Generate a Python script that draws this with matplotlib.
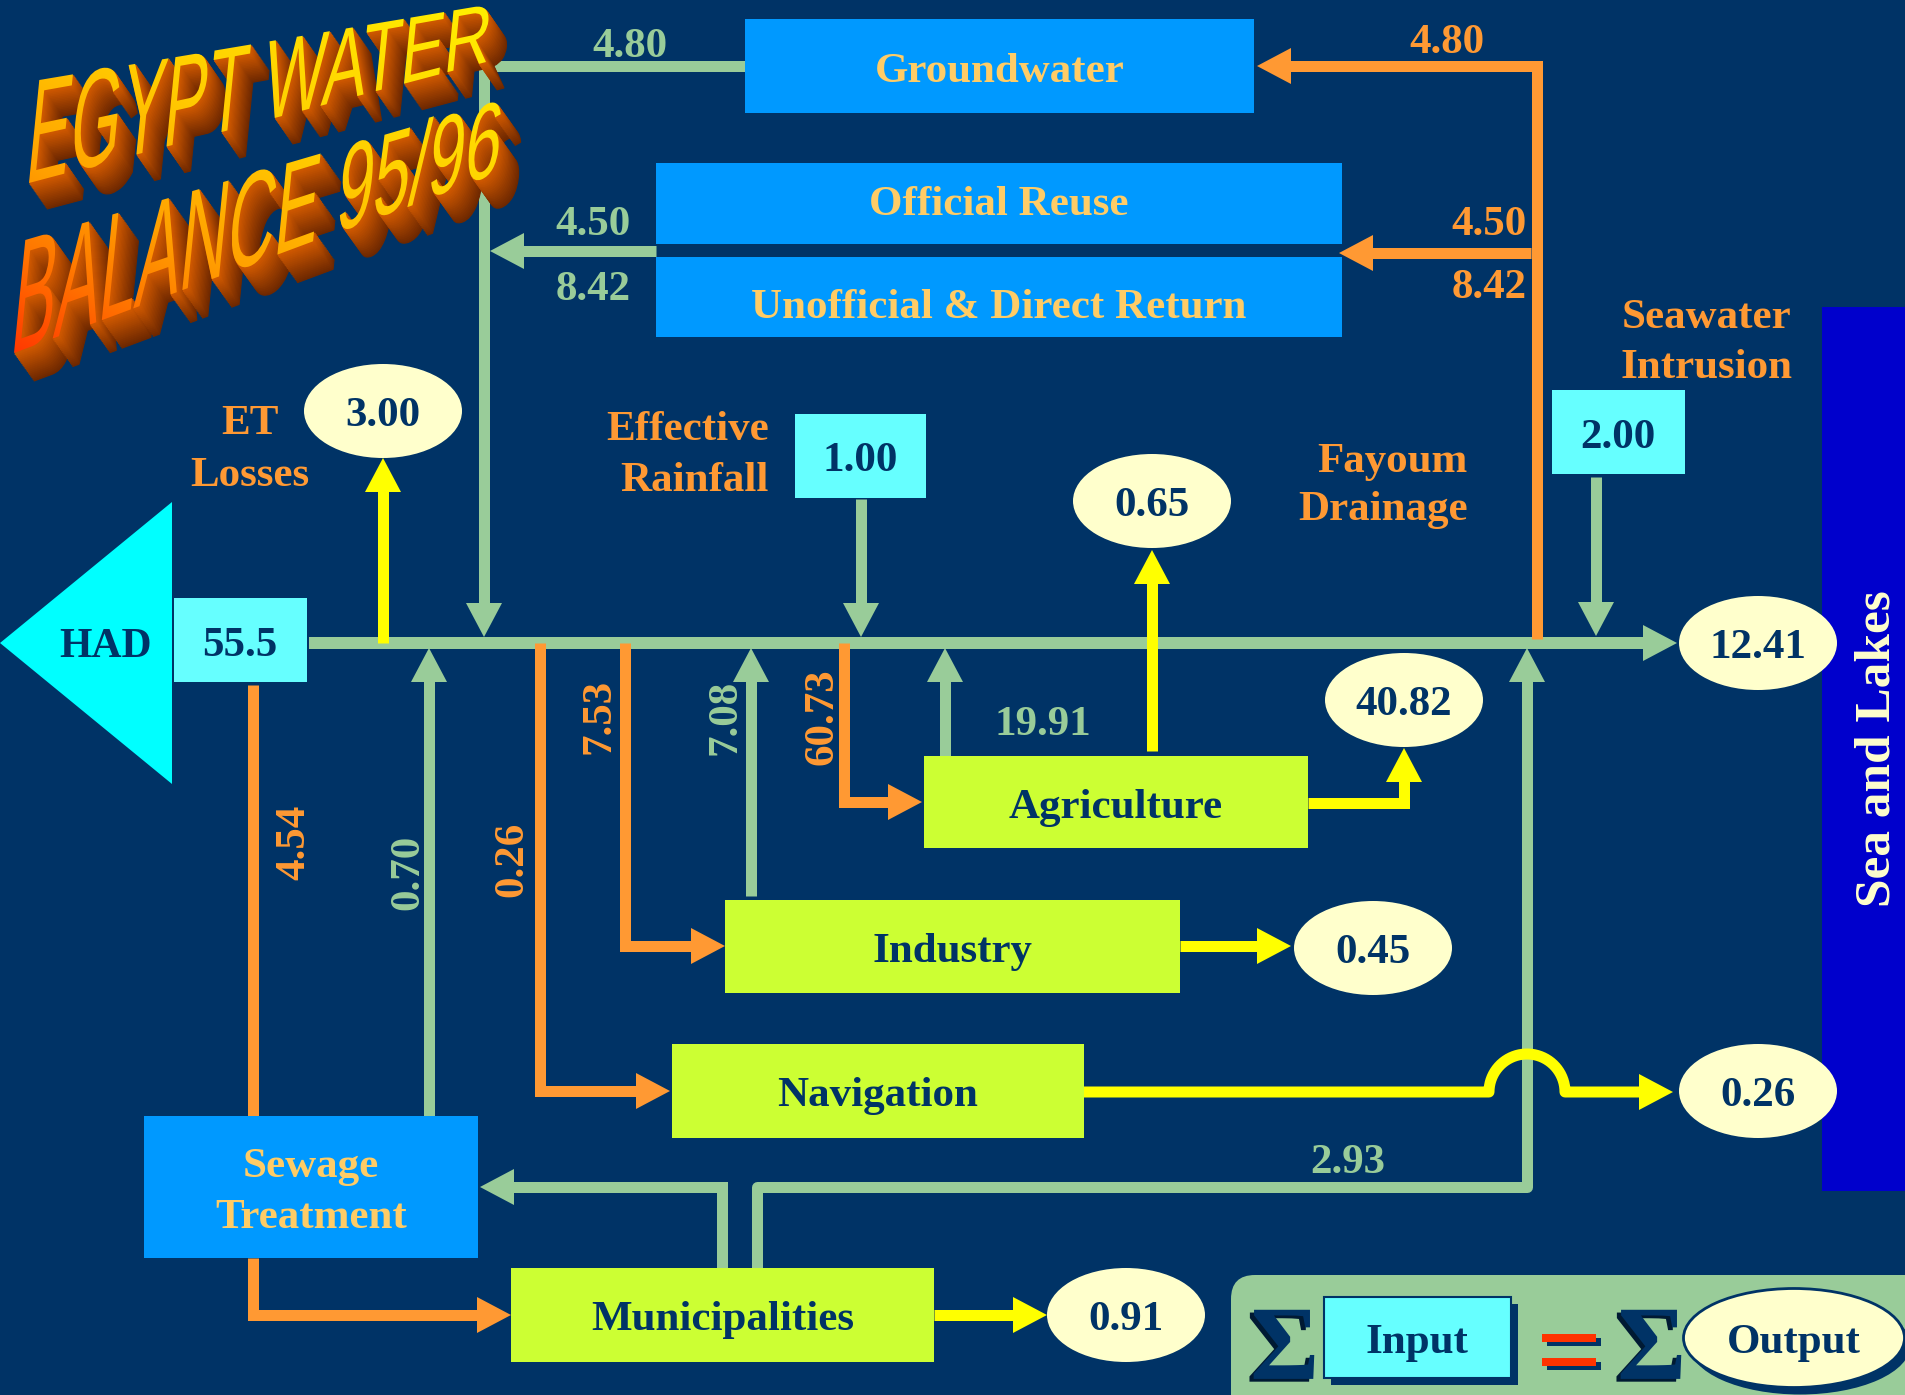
import numpy as np
import matplotlib
matplotlib.use("Agg")
import matplotlib.pyplot as plt
import matplotlib.patheffects as pe
from matplotlib.patches import Rectangle, Ellipse, Polygon, PathPatch, FancyBboxPatch
from matplotlib.path import Path
from matplotlib.textpath import TextPath
from matplotlib.font_manager import FontProperties
from matplotlib.transforms import Affine2D
from matplotlib.colors import to_rgb

# ---- values (10^9 m3/yr), as printed on the chart ----
title_lines = ["EGYPT WATER", "BALANCE 95/96"]
input_names = ["HAD", "Effective Rainfall", "Seawater Intrusion"]
input_values = ["55.5", "1.00", "2.00"]
reuse_names = ["Groundwater", "Official Reuse", "Unofficial & Direct Return"]
reuse_values = ["4.80", "4.50", "8.42"]
sector_names = ["Agriculture", "Industry", "Navigation", "Municipalities"]
sector_intake = ["60.73", "7.53", "0.26"]          # agri, industry, navigation
sector_returns = ["19.91", "7.08", "2.93"]          # agri, industry, municipalities
sector_losses = ["40.82", "0.45", "0.26", "0.91"]   # agri, industry, navigation, municipalities
sewage_values = ["4.54", "0.70"]                    # to sewage, back to Nile
et_losses = "3.00"
fayoum_drainage = "0.65"
sea_outflow = "12.41"

NAVY = "#003366"
GREEN = "#99CC99"
ORANGE = "#FF9933"
YELLOW = "#FFFF00"
CYAN = "#66FFFF"
BLUE = "#0099FF"
LIME = "#CCFF33"
CREAM = "#FFFFCC"
BOXTXT = "#FFCC66"
SERIF = "Liberation Serif"

plt.rcParams["mathtext.fontset"] = "custom"
plt.rcParams["mathtext.rm"] = "Liberation Serif:bold"
plt.rcParams["mathtext.bf"] = "Liberation Serif:bold"

DPI = 100
fig = plt.figure(figsize=(19.05, 13.95), dpi=DPI)
fig.patch.set_facecolor(NAVY)
ax = fig.add_axes([0, 0, 1, 1])
ax.axis("off")


def pw(w):
    return w * 72.0 / DPI


def line(pts, color, w=11, z=3, join="miter"):
    pts = np.asarray(pts, float)
    ax.plot(pts[:, 0], pts[:, 1], color=color, lw=pw(w), solid_joinstyle=join,
            solid_capstyle="butt", zorder=z)


def arrow(pts, color, w=11, L=34, W=36, z=3, join="miter"):
    pts = np.asarray(pts, float)
    tip = pts[-1]
    d = tip - pts[-2]
    d = d / np.hypot(*d)
    base = tip - d * L
    line(np.vstack([pts[:-1], base + d * 2]), color, w, z, join)
    n = np.array([-d[1], d[0]]) * W / 2
    ax.add_patch(Polygon([tip, base + n, base - n], closed=True, fc=color, ec="none", zorder=z))


def txt(x, y, s, color, size=31, ha="center", rot=0, z=6, **kw):
    return ax.text(x, y, s, color=color, fontsize=size, fontweight="bold", family=SERIF,
                   ha=ha, va="baseline", rotation=rot, rotation_mode="anchor", zorder=z, **kw)


def rect(x0, y0, x1, y1, fc, z=4, **kw):
    ax.add_patch(Rectangle((x0, y0), x1 - x0, y1 - y0, fc=fc, zorder=z, **kw))


def oval(cx, cy, s, w=158, h=94):
    ax.add_patch(Ellipse((cx, cy), w, h, fc=CREAM, ec="none", zorder=4))
    txt(cx, cy + 15, s, NAVY)


# sea and lakes bar
rect(1822, 307, 1912, 1191, "#0000CC", z=1)
txt(1890, 749, "Sea and Lakes", CREAM, size=37, rot=90)

# main Nile line
arrow([(309, 643), (1677, 643)], GREEN, w=12, W=36, z=2)

# groundwater and reuse returns (green, left trunk)
arrow([(745, 66), (484, 66), (484, 637)], GREEN)
arrow([(656, 251), (490, 251)], GREEN)
txt(630, 57, reuse_values[0], GREEN)
txt(593, 235, reuse_values[1], GREEN)
txt(593, 300, reuse_values[2], GREEN)

# drainage to groundwater / reuse (orange, right trunk)
arrow([(1537, 639), (1537, 66), (1257, 66)], ORANGE)
arrow([(1531, 253), (1339, 253)], ORANGE)
txt(1447, 53, reuse_values[0], ORANGE)
txt(1527, 235, reuse_values[1], ORANGE, ha="right")
txt(1527, 298, reuse_values[2], ORANGE, ha="right")

# ET losses
arrow([(383, 643), (383, 458)], YELLOW)
txt(250, 434, "ET", ORANGE)
txt(250, 486, "Losses", ORANGE)
oval(383, 411, et_losses)

# rainfall and seawater intrusion
arrow([(861, 499), (861, 637)], GREEN)
arrow([(1596, 477), (1596, 636)], GREEN)

# HAD -> sewage -> municipalities
line([(253, 685), (253, 1116)], ORANGE)
txt(304, 842, sewage_values[0], ORANGE, rot=90)
arrow([(429, 1116), (429, 648)], GREEN)
txt(418, 872, sewage_values[1], GREEN, rot=90)
arrow([(253, 1258), (253, 1315), (511, 1315)], ORANGE)

# withdrawals to sectors
arrow([(540, 643), (540, 1091), (670, 1091)], ORANGE)
arrow([(625, 643), (625, 946), (725, 946)], ORANGE)
arrow([(844, 643), (844, 802), (922, 802)], ORANGE)
txt(522, 859, sector_intake[2], ORANGE, rot=90)
txt(610, 716, sector_intake[1], ORANGE, rot=90)
txt(833, 717, sector_intake[0], ORANGE, rot=90)

# returns from sectors
arrow([(751, 896), (751, 648)], GREEN)
arrow([(945, 756), (945, 648)], GREEN)
txt(735, 717, sector_returns[1], GREEN, rot=90)
txt(1043, 735, sector_returns[0], GREEN)
arrow([(722, 1268), (722, 1187), (480, 1187)], GREEN)
arrow([(757, 1268), (757, 1187), (1527, 1187), (1527, 648)], GREEN, join="round")
txt(1348, 1173, sector_returns[2], GREEN)

# sector losses (yellow)
arrow([(1152, 751), (1152, 550)], YELLOW)
arrow([(1308, 803), (1404, 803), (1404, 748)], YELLOW)
arrow([(1180, 946), (1291, 946)], YELLOW)
arrow([(934, 1315), (1047, 1315)], YELLOW)
th = np.linspace(np.pi, 0, 40)
bump = np.column_stack([1527 + 38 * np.cos(th), 1092 - 38 * np.sin(th)])
arrow(np.vstack([[(1084, 1092)], bump, [(1673, 1092)]]), YELLOW, join="round")

# HAD source
ax.add_patch(Polygon([(0, 643), (172, 502), (172, 784)], closed=True, fc="#00FFFF", ec="none", zorder=4))
txt(105, 657, input_names[0], NAVY, size=30)
rect(174, 598, 307, 682, CYAN)
txt(240, 656, input_values[0], NAVY)

rect(795, 414, 926, 498, CYAN)
txt(860, 471, input_values[1], NAVY)
eff = input_names[1].split()
txt(769, 440, eff[0], ORANGE, ha="right")
txt(769, 491, eff[1], ORANGE, ha="right")

rect(1552, 390, 1685, 474, CYAN)
txt(1618, 448, input_values[2], NAVY)
sea = input_names[2].split()
txt(1707, 328, sea[0], ORANGE)
txt(1707, 378, sea[1], ORANGE)

txt(1468, 472, "Fayoum", ORANGE, ha="right")
txt(1468, 520, "Drainage", ORANGE, ha="right")

# reuse boxes
rect(745, 19, 1254, 113, BLUE)
txt(1000, 82, reuse_names[0], BOXTXT)
rect(656, 163, 1342, 244, BLUE)
txt(999, 215, reuse_names[1], BOXTXT)
rect(656, 257, 1342, 337, BLUE)
txt(999, 318, reuse_names[2], BOXTXT)
rect(144, 1116, 478, 1258, BLUE)
txt(311, 1177, "Sewage", BOXTXT)
txt(311, 1228, "Treatment", BOXTXT)

# sector boxes
sector_boxes = [(924, 756, 1308, 848), (725, 900, 1180, 993),
                (672, 1044, 1084, 1138), (511, 1268, 934, 1362)]
for name, (x0, y0, x1, y1) in zip(sector_names, sector_boxes):
    rect(x0, y0, x1, y1, LIME)
    txt((x0 + x1) / 2, y0 + 62, name, NAVY)

# output ellipses
oval(1152, 501, fayoum_drainage)
oval(1404, 700, sector_losses[0])
oval(1373, 948, sector_losses[1])
oval(1758, 1091, sector_losses[2])
oval(1126, 1315, sector_losses[3])
oval(1758, 643, sea_outflow)

# legend: sum input = sum output
ax.add_patch(FancyBboxPatch((1231, 1275), 720, 160, boxstyle="round,pad=0,rounding_size=24",
                            fc=GREEN, ec="none", zorder=4))
sigma_fx = [pe.PathPatchEffect(offset=(-3, -16), facecolor="#001a33", edgecolor="none"),
            pe.PathPatchEffect(offset=(0, -14), facecolor=NAVY, edgecolor="none")]
for sx in (1283, 1650):
    ax.text(sx, 1382, r"$\Sigma$", color=NAVY, fontsize=76, ha="center", va="bottom", zorder=5,
            path_effects=sigma_fx)
rect(1331, 1304, 1518, 1385, NAVY, z=5)
rect(1324, 1297, 1511, 1378, CYAN, z=5, ec=NAVY, lw=1.5)
txt(1417, 1353, "Input", NAVY)
for by in (1334, 1358):
    rect(1547, by + 4, 1601, by + 12, NAVY, z=5)
    rect(1542, by, 1596, by + 8, "#FF3300", z=5)
ax.add_patch(Ellipse((1800, 1345), 221, 99, fc=NAVY, ec="none", zorder=5))
ax.add_patch(Ellipse((1794, 1338), 221, 99, fc=CREAM, ec=NAVY, lw=2, zorder=5))
txt(1794, 1353, "Output", NAVY)

# ---- 3D word-art title ----
title_fp = FontProperties(family="Liberation Sans")
CAP = TextPath((0, 0), "E", size=100, prop=title_fp).get_extents().height


def wordart(s, p0, p1, h0, h1, lean=0.1):
    tp = TextPath((0, 0), s, size=100, prop=title_fp)
    v = tp.vertices
    ext = tp.get_extents()
    u = (v[:, 0] - ext.x0) / ext.width
    t = v[:, 1] / CAP
    p0 = np.array(p0, float)
    p1 = np.array(p1, float)
    h = h0 + u * (h1 - h0)
    xy = p0 + u[:, None] * (p1 - p0) + (t * h)[:, None] * np.array([lean, -1.0])
    return Path(xy, tp.codes)


gx, gy = np.meshgrid(np.linspace(0, 540, 270), np.linspace(0, 420, 210))
g = gy - 0.5 * gx
stops = [-230, 0, 150, 250, 360]
stop_cols = np.array([to_rgb(c) for c in ["#FFEE00", "#FFCC00", "#FFA000", "#FF7000", "#FF3000"]])
grad = np.dstack([np.interp(g, stops, stop_cols[:, k]) for k in range(3)])

back = np.array(to_rgb("#6E2800"))
front = np.array(to_rgb("#D25A00"))


def draw_title(path, shift, z):
    steps = 18
    for i in range(steps, 0, -1):
        f = i / steps
        col = back * f + front * (1 - f)
        p = path.transformed(Affine2D().translate(shift[0] * f, shift[1] * f))
        ax.add_patch(PathPatch(p, fc=col, ec=col, lw=0.8, zorder=z))
    face = PathPatch(path, fc="none", ec="none", zorder=z + 1)
    ax.add_patch(face)
    im = ax.imshow(grad, extent=(0, 540, 420, 0), zorder=z + 1, aspect="auto",
                   interpolation="bilinear")
    im.set_clip_path(face)


draw_title(wordart(title_lines[0], (29, 183), (486, 62), 103, 58), (18, 26), 8)
draw_title(wordart(title_lines[1], (14, 353), (496, 173), 113, 73), (20, 28), 10)

ax.set_xlim(0, 1905)
ax.set_ylim(1395, 0)
fig.savefig("out.png", dpi=DPI, facecolor=NAVY)
